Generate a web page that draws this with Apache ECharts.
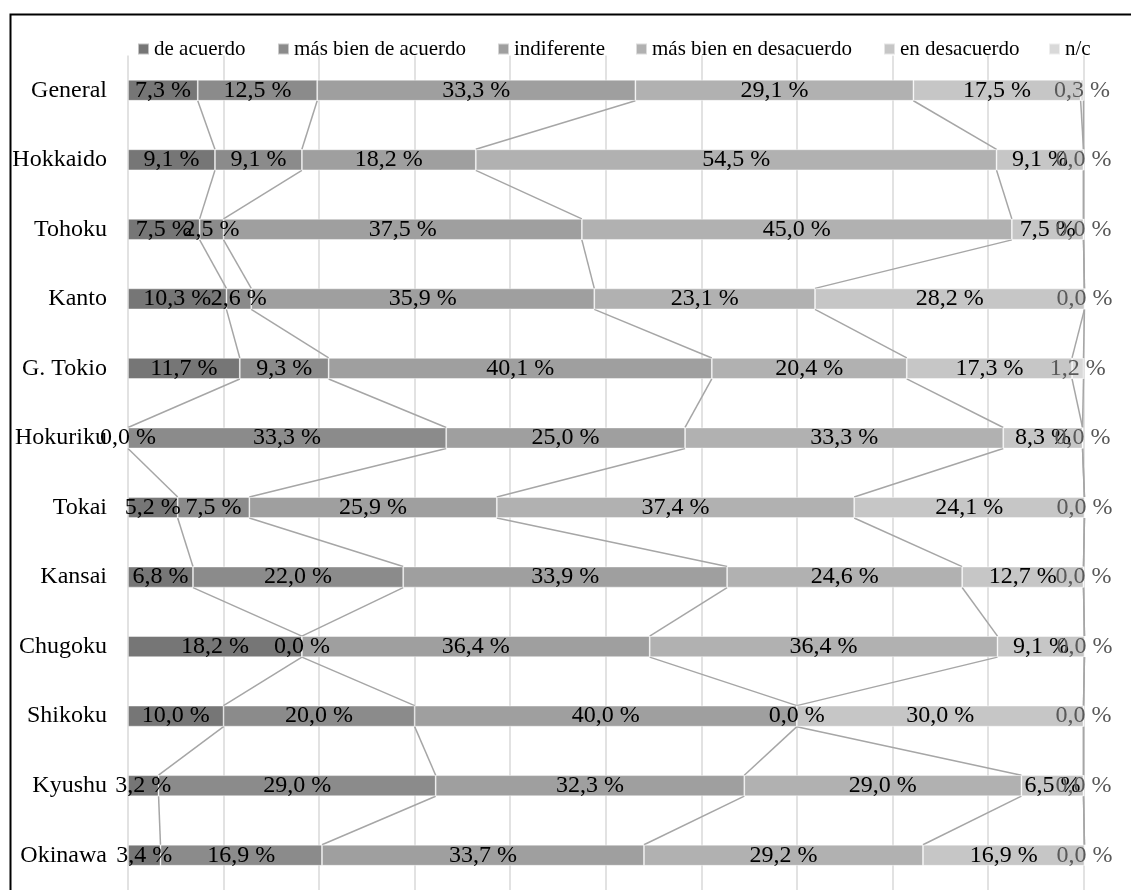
<!DOCTYPE html>
<html>
<head>
<meta charset="utf-8">
<script src="https://cdn.jsdelivr.net/npm/echarts@6/dist/echarts.min.js"></script>
<style>
  html, body { margin: 0; padding: 0; background: #fff; }
  #chart { width: 1131px; height: 890px; }
</style>
</head>
<body>
<div id="chart"></div>
<script>
// Regions, top to bottom
const regions = ['General', 'Hokkaido', 'Tohoku', 'Kanto', 'G. Tokio', 'Hokuriku', 'Tokai', 'Kansai', 'Chugoku', 'Shikoku', 'Kyushu', 'Okinawa'];

// Answer categories
const answers = ['de acuerdo', 'más bien de acuerdo', 'indiferente', 'más bien en desacuerdo', 'en desacuerdo', 'n/c'];

// Share of answers per region (%)
const deAcuerdo       = [7.3, 9.1, 7.5, 10.3, 11.7, 0.0, 5.2, 6.8, 18.2, 10.0, 3.2, 3.4];
const masBienAcuerdo  = [12.5, 9.1, 2.5, 2.6, 9.3, 33.3, 7.5, 22.0, 0.0, 20.0, 29.0, 16.9];
const indiferente     = [33.3, 18.2, 37.5, 35.9, 40.1, 25.0, 25.9, 33.9, 36.4, 40.0, 32.3, 33.7];
const masBienDesac    = [29.1, 54.5, 45.0, 23.1, 20.4, 33.3, 37.4, 24.6, 36.4, 0.0, 29.0, 29.2];
const enDesacuerdo    = [17.5, 9.1, 7.5, 28.2, 17.3, 8.3, 24.1, 12.7, 9.1, 30.0, 6.5, 16.9];
const noContesta      = [0.3, 0.0, 0.0, 0.0, 1.2, 0.0, 0.0, 0.0, 0.0, 0.0, 0.0, 0.0];

// Value-axis ticks
const xMin = 0, xMax = 100, xStep = 10;

const values = [deAcuerdo, masBienAcuerdo, indiferente, masBienDesac, enDesacuerdo, noContesta];
const colors = ['#767676', '#8b8b8b', '#9f9f9f', '#b1b1b1', '#c6c6c6', '#d9d9d9'];
const labelColors = ['#000', '#000', '#000', '#000', '#000', '#595959'];
const legendLeft = [137, 277, 497, 635, 883, 1048];

const FONT = "'Liberation Serif', 'Times New Roman', serif";
const BAR_H = 21;

const fmt = v => v.toFixed(1).replace('.', ',') + ' %';

// Running totals: right edge of each answer segment in every bar
const ends = values.map((_, k) => regions.map((_, i) => {
  let s = 0;
  for (let j = 0; j <= k; j++) s += values[j][i];
  return s;
}));

// Connector segments between consecutive bars: [x at bar i, i, x at bar i+1]
const connectorData = [];
ends.forEach(row => {
  for (let i = 0; i < regions.length - 1; i++) connectorData.push([row[i], i, row[i + 1]]);
});

const barSeries = answers.map((name, k) => ({
  name: name,
  type: 'bar',
  stack: 'total',
  barWidth: BAR_H,
  clip: false,
  z: 3,
  data: values[k],
  itemStyle: { color: colors[k], borderColor: 'rgba(255,255,255,0.55)', borderWidth: 0.8 },
  label: {
    show: true,
    position: 'inside',
    color: labelColors[k],
    fontFamily: FONT,
    fontSize: 24,
    formatter: p => fmt(p.value)
  },
  emphasis: { disabled: true }
}));

const connectors = {
  type: 'custom',
  z: 2,
  silent: true,
  clip: false,
  data: connectorData,
  encode: { x: [0, 2], y: 1 },
  renderItem: function (params, api) {
    const idx = api.value(1);
    const p1 = api.coord([api.value(0), idx]);
    const p2 = api.coord([api.value(2), idx + 1]);
    const half = BAR_H / 2;
    return {
      type: 'line',
      shape: { x1: p1[0], y1: p1[1] + half, x2: p2[0], y2: p2[1] - half },
      style: { stroke: '#a6a6a6', lineWidth: 1.5 }
    };
  }
};

const legends = answers.map((name, k) => ({
  data: [name],
  left: legendLeft[k],
  top: 38,
  padding: 0,
  icon: 'rect',
  itemWidth: 11,
  itemHeight: 11,
  selectedMode: false,
  textStyle: { fontFamily: FONT, fontSize: 21, color: '#000', lineHeight: 22 }
}));

const chart = echarts.init(document.getElementById('chart'), null, { renderer: 'canvas' });
chart.setOption({
  animation: false,
  backgroundColor: '#fff',
  legend: legends,
  grid: { left: 128, right: 47.5, top: 55.5, height: 840.8, containLabel: false },
  xAxis: {
    type: 'value',
    min: xMin,
    max: xMax,
    interval: xStep,
    axisLabel: { show: false },
    axisLine: { show: false },
    axisTick: { show: false },
    splitLine: { show: true, lineStyle: { color: '#d9d9d9', width: 1.5 } }
  },
  yAxis: {
    type: 'category',
    inverse: true,
    data: regions,
    axisLine: { show: false },
    axisTick: { show: false },
    axisLabel: { margin: 21, color: '#000', fontFamily: FONT, fontSize: 24 }
  },
  graphic: [{
    type: 'rect',
    left: 8,
    top: 12,
    shape: { width: 1300, height: 1000 },
    style: { fill: 'none', stroke: '#000', lineWidth: 2 },
    silent: true,
    z: 100
  }],
  series: [connectors].concat(barSeries)
});
</script>
</body>
</html>
